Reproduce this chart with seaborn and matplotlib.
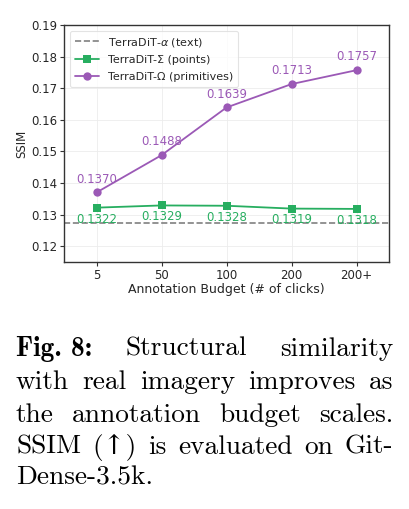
import matplotlib
matplotlib.use("Agg")
import matplotlib.pyplot as plt
import seaborn as sns
import pandas as pd

budgets = ["5", "50", "100", "200", "200+"]
sigma_vals = [0.1322, 0.1329, 0.1328, 0.1319, 0.1318]
omega_vals = [0.1370, 0.1488, 0.1639, 0.1713, 0.1757]
alpha_val = 0.1275

label_alpha = r"TerraDiT-$\alpha$ (text)"
label_sigma = "TerraDiT-Σ (points)"
label_omega = "TerraDiT-Ω (primitives)"

green = "#27ae60"
purple = "#9b59b6"

sns.set_theme(style="whitegrid")
plt.rcParams["font.family"] = ["DejaVu Sans"]

fig = plt.figure(figsize=(4.10, 5.09), dpi=100)
ax = fig.add_axes([64 / 410, 1 - 262 / 509, 325 / 410, 237 / 509])

df = pd.DataFrame({
    "budget": budgets * 2,
    "ssim": sigma_vals + omega_vals,
    "model": [label_sigma] * 5 + [label_omega] * 5,
})
df["x"] = list(range(len(budgets))) * 2

ax.axhline(alpha_val, color="gray", linestyle="--", linewidth=1.2, label=label_alpha, zorder=1)
sns.lineplot(data=df[df.model == label_sigma], x="x", y="ssim", color=green, marker="s",
             markersize=6, markeredgewidth=0, linewidth=1.3, ax=ax, label=label_sigma)
sns.lineplot(data=df[df.model == label_omega], x="x", y="ssim", color=purple, marker="o",
             markersize=6, markeredgewidth=0, linewidth=1.3, ax=ax, label=label_omega)

for i, v in enumerate(omega_vals):
    ax.annotate(f"{v:.4f}", (i, v), xytext=(0, 5), textcoords="offset points",
                ha="center", va="bottom", color=purple, fontsize=8.5)
for i, v in enumerate(sigma_vals):
    ax.annotate(f"{v:.4f}", (i, v), xytext=(0, -3.5), textcoords="offset points",
                ha="center", va="top", color=green, fontsize=8.5)

ax.set_xlim(-0.5, 4.5)
ax.set_ylim(0.115, 0.19)
ax.set_xticks(range(len(budgets)))
ax.set_xticklabels(budgets)
ax.set_yticks([0.12, 0.13, 0.14, 0.15, 0.16, 0.17, 0.18, 0.19])
ax.tick_params(axis="both", labelsize=8.5, length=3, width=0.8, color="#333333", pad=2)
ax.tick_params(axis="x", bottom=True)
ax.tick_params(axis="y", left=True)
ax.set_xlabel("Annotation Budget (# of clicks)", fontsize=9, labelpad=1)
ax.set_ylabel("SSIM", fontsize=8.5, labelpad=2)
ax.grid(True, color="#ececec", linewidth=0.6)
for s in ax.spines.values():
    s.set_color("#333333")
    s.set_linewidth(1.0)

leg = ax.legend(loc="upper left", fontsize=8, frameon=True, handlelength=2.2,
                borderpad=0.45, labelspacing=0.6)
leg.get_frame().set_edgecolor("#dddddd")
leg.get_frame().set_linewidth(0.8)

# Caption (justified)
lines = [
    ["Fig. 8:", "Structural", "similarity"],
    ["with", "real", "imagery", "improves", "as"],
    ["the", "annotation", "budget", "scales."],
    ["SSIM", "(↑)", "is", "evaluated", "on", "Git-"],
    ["Dense-3.5k."],
]
justify = [True, True, True, True, False]
ys = [349, 382, 415, 447, 478]
left_px, right_px = 16, 393
cap_fs = 19.7
fig.canvas.draw()
renderer = fig.canvas.get_renderer()
for li, (words, y, just) in enumerate(zip(lines, ys, justify)):
    texts = []
    for wi, w in enumerate(words):
        fam = ["cmb10", "DejaVu Serif"] if (li == 0 and wi == 0) else ["cmr10", "DejaVu Serif"]
        t = fig.text(0, 1 - y / 509, w, fontsize=cap_fs, family=fam,
                     va="center", ha="left", color="black")
        texts.append(t)
    widths = [t.get_window_extent(renderer).width for t in texts]
    total = sum(widths)
    if just and len(words) > 1:
        gap = (right_px - left_px - total) / (len(words) - 1)
    else:
        gap = 6
    x = left_px
    for t, w in zip(texts, widths):
        t.set_x(x / 410)
        x += w + gap

fig.savefig("out.png", dpi=100)
